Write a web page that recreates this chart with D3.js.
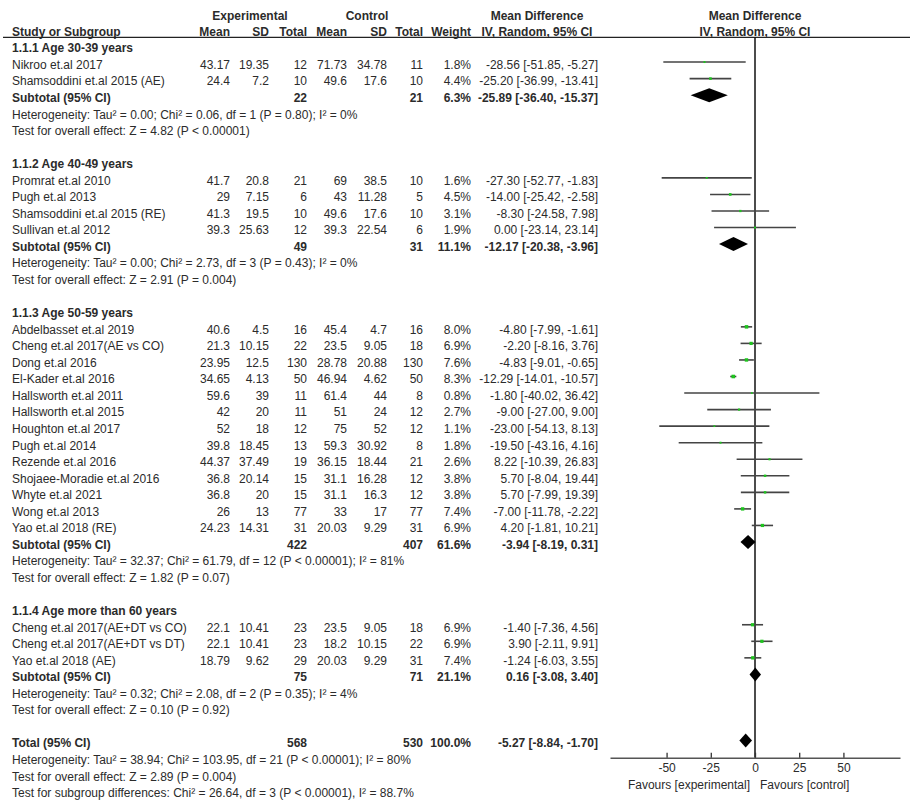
<!DOCTYPE html>
<html>
<head>
<meta charset="utf-8">
<script src="https://cdn.jsdelivr.net/npm/d3@7"></script>
<style>
  html, body { margin: 0; padding: 0; background: #fff; }
  svg { display: block; font-family: "Liberation Sans", Arial, sans-serif; }
</style>
</head>
<body>
<svg id="chart" width="913" height="803"></svg>
<script>
// ---------------- DATA ----------------
const groupTitles = [
  "1.1.1 Age 30-39 years",
  "1.1.2 Age 40-49 years",
  "1.1.3 Age 50-59 years",
  "1.1.4 Age more than 60 years"
];
const studyNames = [
  "Nikroo et.al 2017", "Shamsoddini et.al 2015 (AE)",
  "Promrat et.al 2010", "Pugh et.al 2013", "Shamsoddini et.al 2015 (RE)", "Sullivan et.al 2012",
  "Abdelbasset et.al 2019", "Cheng et.al 2017(AE vs CO)", "Dong et.al 2016", "El-Kader et.al 2016",
  "Hallsworth et.al 2011", "Hallsworth et.al 2015", "Houghton et.al 2017", "Pugh et.al 2014",
  "Rezende et.al 2016", "Shojaee-Moradie et.al 2016", "Whyte et.al 2021", "Wong et.al 2013",
  "Yao et.al 2018 (RE)",
  "Cheng et.al 2017(AE+DT vs CO)", "Cheng et.al 2017(AE+DT vs DT)", "Yao et.al 2018 (AE)"
];
const studyGroup = [0,0, 1,1,1,1, 2,2,2,2,2,2,2,2,2,2,2,2,2, 3,3,3];
const expMean = [43.17, 24.4, 41.7, 29, 41.3, 39.3, 40.6, 21.3, 23.95, 34.65, 59.6, 42, 52, 39.8, 44.37, 36.8, 36.8, 26, 24.23, 22.1, 22.1, 18.79];
const expSD   = [19.35, 7.2, 20.8, 7.15, 19.5, 25.63, 4.5, 10.15, 12.5, 4.13, 39, 20, 18, 18.45, 37.49, 20.14, 20, 13, 14.31, 10.41, 10.41, 9.62];
const expN    = [12, 10, 21, 6, 10, 12, 16, 22, 130, 50, 11, 11, 12, 13, 19, 15, 15, 77, 31, 23, 23, 29];
const ctlMean = [71.73, 49.6, 69, 43, 49.6, 39.3, 45.4, 23.5, 28.78, 46.94, 61.4, 51, 75, 59.3, 36.15, 31.1, 31.1, 33, 20.03, 23.5, 18.2, 20.03];
const ctlSD   = [34.78, 17.6, 38.5, 11.28, 17.6, 22.54, 4.7, 9.05, 20.88, 4.62, 44, 24, 52, 30.92, 18.44, 16.28, 16.3, 17, 9.29, 9.05, 10.15, 9.29];
const ctlN    = [11, 10, 10, 5, 10, 6, 16, 18, 130, 50, 8, 12, 12, 8, 21, 12, 12, 77, 31, 18, 22, 31];
const weights = [1.8, 4.4, 1.6, 4.5, 3.1, 1.9, 8.0, 6.9, 7.6, 8.3, 0.8, 2.7, 1.1, 1.8, 2.6, 3.8, 3.8, 7.4, 6.9, 6.9, 6.9, 7.4];
const meanDiff = [-28.56, -25.20, -27.30, -14.00, -8.30, 0.00, -4.80, -2.20, -4.83, -12.29, -1.80, -9.00, -23.00, -19.50, 8.22, 5.70, 5.70, -7.00, 4.20, -1.40, 3.90, -1.24];
const ciLow   = [-51.85, -36.99, -52.77, -25.42, -24.58, -23.14, -7.99, -8.16, -9.01, -14.01, -40.02, -27.00, -54.13, -43.16, -10.39, -8.04, -7.99, -11.78, -1.81, -7.36, -2.11, -6.03];
const ciHigh  = [-5.27, -13.41, -1.83, -2.58, 7.98, 23.14, -1.61, 3.76, -0.65, -10.57, 36.42, 9.00, 8.13, 4.16, 26.83, 19.44, 19.39, -2.22, 10.21, 4.56, 9.91, 3.55];

const subExpN   = [22, 49, 422, 75];
const subCtlN   = [21, 31, 407, 71];
const subWeight = [6.3, 11.1, 61.6, 21.1];
const subMD     = [-25.89, -12.17, -3.94, 0.16];
const subLow    = [-36.40, -20.38, -8.19, -3.08];
const subHigh   = [-15.37, -3.96, 0.31, 3.40];
const subHet = [
  "Heterogeneity: Tau² = 0.00; Chi² = 0.06, df = 1 (P = 0.80); I² = 0%",
  "Heterogeneity: Tau² = 0.00; Chi² = 2.73, df = 3 (P = 0.43); I² = 0%",
  "Heterogeneity: Tau² = 32.37; Chi² = 61.79, df = 12 (P < 0.00001); I² = 81%",
  "Heterogeneity: Tau² = 0.32; Chi² = 2.08, df = 2 (P = 0.35); I² = 4%"
];
const subTest = [
  "Test for overall effect: Z = 4.82 (P < 0.00001)",
  "Test for overall effect: Z = 2.91 (P = 0.004)",
  "Test for overall effect: Z = 1.82 (P = 0.07)",
  "Test for overall effect: Z = 0.10 (P = 0.92)"
];
const totalExpN = 568, totalCtlN = 530, totalWeight = 100.0;
const totalMD = -5.27, totalLow = -8.84, totalHigh = -1.70;
const totalNotes = [
  "Heterogeneity: Tau² = 38.94; Chi² = 103.95, df = 21 (P < 0.00001); I² = 80%",
  "Test for overall effect: Z = 2.89 (P = 0.004)",
  "Test for subgroup differences: Chi² = 26.64, df = 3 (P < 0.00001), I² = 88.7%"
];
const tickValues = [-50, -25, 0, 25, 50];
const axisDomain = [-82, 82];
const favourLabels = ["Favours [experimental]", "Favours [control]"];

// ---------------- LAYOUT ----------------
const svg = d3.select("#chart");
const txtColor = "#2b2b2b";
const fontSize = 12;
const rowTop = 48, rowStep = 16.55;
const rowY = i => rowTop + rowStep * i;
const col = { name: 12, eMean: 230, eSD: 269, eN: 307, cMean: 347, cSD: 387, cN: 423, w: 471, ci: 598 };
const x = d3.scaleLinear().domain(axisDomain).range([610, 900]);
const axisY = 757.7;
const headerLineY = 37.3;

const fmt2 = v => v.toFixed(2);
const ciText = (m, l, h) => `${fmt2(m)} [${fmt2(l)}, ${fmt2(h)}]`;

// build row list
const rows = [];
groupTitles.forEach((g, gi) => {
  rows.push({ type: "heading", label: g });
  studyNames.forEach((n, si) => { if (studyGroup[si] === gi) rows.push({ type: "study", i: si }); });
  rows.push({ type: "subtotal", g: gi });
  rows.push({ type: "note", label: subHet[gi] });
  rows.push({ type: "note", label: subTest[gi] });
  rows.push({ type: "blank" });
});
rows.push({ type: "total" });
totalNotes.forEach(t => rows.push({ type: "note", label: t }));

function text(xp, y, s, anchor, bold) {
  svg.append("text")
    .attr("x", xp).attr("y", y)
    .attr("text-anchor", anchor || "start")
    .attr("font-size", fontSize)
    .attr("font-weight", bold ? "bold" : "normal")
    .attr("fill", txtColor)
    .text(s);
}

// header
text(250, 19.5, "Experimental", "middle", true);
text(367, 19.5, "Control", "middle", true);
text(537, 19.5, "Mean Difference", "middle", true);
text(755, 19.5, "Mean Difference", "middle", true);
text(col.name, 36, "Study or Subgroup", "start", true);
text(col.eMean, 36, "Mean", "end", true);
text(col.eSD, 36, "SD", "end", true);
text(col.eN, 36, "Total", "end", true);
text(col.cMean, 36, "Mean", "end", true);
text(col.cSD, 36, "SD", "end", true);
text(col.cN, 36, "Total", "end", true);
text(col.w, 36, "Weight", "end", true);
text(537, 36, "IV, Random, 95% CI", "middle", true);
text(755, 36, "IV, Random, 95% CI", "middle", true);
svg.append("line").attr("x1", 3).attr("x2", 910)
  .attr("y1", headerLineY).attr("y2", headerLineY)
  .attr("stroke", "#222").attr("stroke-width", 1.3);

// zero line
svg.append("line").attr("x1", x(0)).attr("x2", x(0))
  .attr("y1", headerLineY).attr("y2", axisY)
  .attr("stroke", "#111").attr("stroke-width", 1.5);

const marks = svg.append("g");
rows.forEach((r, ri) => {
  const yc = rowY(ri);
  const yb = yc + 4.3;
  const ym = yc - 2.5;
  if (r.type === "heading") {
    text(col.name, yb, r.label, "start", true);
  } else if (r.type === "study") {
    const i = r.i;
    text(col.name, yb, studyNames[i]);
    text(col.eMean, yb, String(expMean[i]), "end");
    text(col.eSD, yb, String(expSD[i]), "end");
    text(col.eN, yb, String(expN[i]), "end");
    text(col.cMean, yb, String(ctlMean[i]), "end");
    text(col.cSD, yb, String(ctlSD[i]), "end");
    text(col.cN, yb, String(ctlN[i]), "end");
    text(col.w, yb, weights[i].toFixed(1) + "%", "end");
    text(col.ci, yb, ciText(meanDiff[i], ciLow[i], ciHigh[i]), "end");
    marks.append("line")
      .attr("x1", x(ciLow[i])).attr("x2", x(ciHigh[i]))
      .attr("y1", ym).attr("y2", ym)
      .attr("stroke", "#444").attr("stroke-width", 1.6);
    const s = 1.5 + weights[i] * 0.25;
    marks.append("rect")
      .attr("x", x(meanDiff[i]) - s / 2).attr("y", ym - s / 2)
      .attr("width", s).attr("height", s)
      .attr("fill", "#1ec41e");
  } else if (r.type === "subtotal" || r.type === "total") {
    const isT = r.type === "total";
    const eN = isT ? totalExpN : subExpN[r.g];
    const cN = isT ? totalCtlN : subCtlN[r.g];
    const w = isT ? totalWeight : subWeight[r.g];
    const m = isT ? totalMD : subMD[r.g];
    const lo = isT ? totalLow : subLow[r.g];
    const hi = isT ? totalHigh : subHigh[r.g];
    text(col.name, yb, isT ? "Total (95% CI)" : "Subtotal (95% CI)", "start", true);
    text(col.eN, yb, String(eN), "end", true);
    text(col.cN, yb, String(cN), "end", true);
    text(col.w, yb, w.toFixed(1) + "%", "end", true);
    text(col.ci, yb, ciText(m, lo, hi), "end", true);
    const h = 7;
    marks.append("path")
      .attr("d", `M${x(lo)},${ym}L${x(m)},${ym - h}L${x(hi)},${ym}L${x(m)},${ym + h}Z`)
      .attr("fill", "#000");
  } else if (r.type === "note") {
    text(col.name, yb, r.label);
  }
});

// axis
const axis = d3.axisBottom(x).tickValues(tickValues).tickSizeInner(-5).tickSizeOuter(0).tickPadding(6)
  .tickFormat(d => String(d));
const ax = svg.append("g").attr("transform", `translate(0,${axisY})`).call(axis);
ax.select(".domain").attr("stroke", "#555").attr("stroke-width", 1.5);
ax.selectAll(".tick line").attr("stroke", "#333").attr("stroke-width", 1.3);
ax.selectAll(".tick text").attr("font-size", fontSize).attr("fill", txtColor)
  .attr("font-family", "\"Liberation Sans\", Arial, sans-serif");

text(x(0) - 5, 788.5, favourLabels[0], "end");
text(x(0) + 5, 788.5, favourLabels[1], "start");
</script>
</body>
</html>
